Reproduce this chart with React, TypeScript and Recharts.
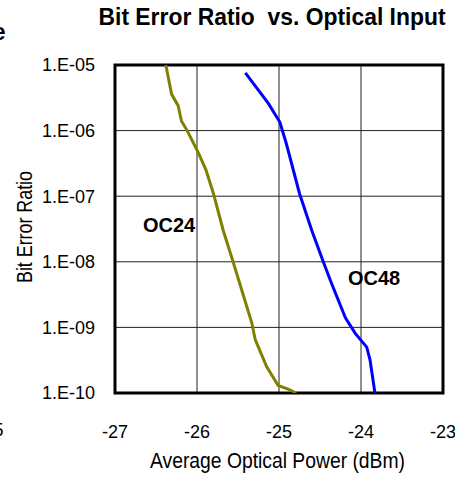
import React from 'react';
import {
  LineChart,
  Line,
  XAxis,
  YAxis,
  CartesianGrid,
  ReferenceArea,
} from 'recharts';

// ─────────────────────────────────────────────────────────────────────────────
// Data
// ─────────────────────────────────────────────────────────────────────────────

const oc24Power = [
  -26.38, -26.31, -26.23, -26.19, -26.12, -25.98, -25.89, -25.8, -25.68,
  -25.56, -25.33, -25.29, -25.15, -25.01, -24.89, -24.79,
];
const oc24Ber = [
  1.0e-5, 3.6e-6, 2.4e-6, 1.4e-6, 1.0e-6, 4.5e-7, 2.5e-7, 1.1e-7, 3.0e-8,
  1.0e-8, 1.15e-9, 6.5e-10, 2.5e-10, 1.3e-10, 1.15e-10, 1.0e-10,
];

const oc48Power = [
  -25.41, -25.13, -24.99, -24.91, -24.75, -24.6, -24.46, -24.36, -24.19,
  -24.07, -23.93, -23.89, -23.83,
];
const oc48Ber = [
  7.6e-6, 2.6e-6, 1.35e-6, 6.3e-7, 1.1e-7, 3.0e-8, 1.0e-8, 4.7e-9, 1.4e-9,
  8.1e-10, 5.0e-10, 3.2e-10, 1.0e-10,
];

const xTicks = [-27, -26, -25, -24, -23];
const yTicks = [1e-10, 1e-9, 1e-8, 1e-7, 1e-6, 1e-5];

const oc24Data = oc24Power.map((p, i) => ({ power: p, ber: oc24Ber[i] }));
const oc48Data = oc48Power.map((p, i) => ({ power: p, ber: oc48Ber[i] }));

const FONT = '"Liberation Sans", Arial, Helvetica, sans-serif';

const formatBer = (v: number) =>
  `1.E-${String(Math.round(-Math.log10(v))).padStart(2, '0')}`;

// ─────────────────────────────────────────────────────────────────────────────
// Component
// ─────────────────────────────────────────────────────────────────────────────

export default function App() {
  return (
    <div
      style={{
        position: 'absolute',
        left: 0,
        top: 0,
        width: 455,
        height: 483,
        background: '#fff',
        fontFamily: FONT,
      }}
    >
      <LineChart
        width={455}
        height={483}
        margin={{ top: 65, right: 12, bottom: 50, left: 55 }}
      >
        <CartesianGrid stroke="#222" strokeWidth={1} />
        <XAxis
          type="number"
          dataKey="power"
          domain={[-27, -23]}
          ticks={xTicks}
          height={40}
          axisLine={false}
          tickLine={false}
          tickSize={0}
          tickMargin={32}
          tick={{ fill: '#000', fontSize: 18, fontFamily: FONT }}
          allowDataOverflow
        />
        <YAxis
          type="number"
          dataKey="ber"
          scale="log"
          domain={[1e-10, 1e-5]}
          ticks={yTicks}
          width={60}
          axisLine={false}
          tickLine={false}
          tickSize={0}
          tickMargin={20}
          tickFormatter={formatBer}
          tick={{ fill: '#000', fontSize: 18, fontFamily: FONT }}
          allowDataOverflow
        />
        <Line
          data={oc24Data}
          dataKey="ber"
          type="linear"
          stroke="#808000"
          strokeWidth={3}
          dot={false}
          isAnimationActive={false}
        />
        <Line
          data={oc48Data}
          dataKey="ber"
          type="linear"
          stroke="#0000ff"
          strokeWidth={3}
          dot={false}
          isAnimationActive={false}
        />
        <ReferenceArea
          x1={-27}
          x2={-23}
          y1={1e-10}
          y2={1e-5}
          fill="none"
          stroke="#000"
          strokeWidth={3}
          ifOverflow="visible"
        />
      </LineChart>

      <svg
        width={455}
        height={483}
        style={{ position: 'absolute', left: 0, top: 0, pointerEvents: 'none' }}
        fontFamily={FONT}
      >
        <text
          x={98.5}
          y={25}
          fontSize={23}
          fontWeight="bold"
          textLength={347}
          lengthAdjust="spacingAndGlyphs"
          style={{ whiteSpace: 'pre' }}
        >
          Bit Error Ratio  vs. Optical Input
        </text>
        <text
          x={150}
          y={468}
          fontSize={22}
          textLength={255}
          lengthAdjust="spacingAndGlyphs"
        >
          Average Optical Power (dBm)
        </text>
        <text
          x={0}
          y={0}
          fontSize={22}
          textAnchor="middle"
          transform="translate(32 227) rotate(-90)"
          textLength={112}
          lengthAdjust="spacingAndGlyphs"
        >
          Bit Error Ratio
        </text>
        <text x={143} y={231.5} fontSize={20} fontWeight="bold">
          OC24
        </text>
        <text x={348} y={285} fontSize={20} fontWeight="bold">
          OC48
        </text>
        <text x={5.5} y={40} fontSize={23} fontWeight="bold" textAnchor="end">
          e
        </text>
        <text x={3.5} y={436} fontSize={18} textAnchor="end">
          5
        </text>
      </svg>
    </div>
  );
}
